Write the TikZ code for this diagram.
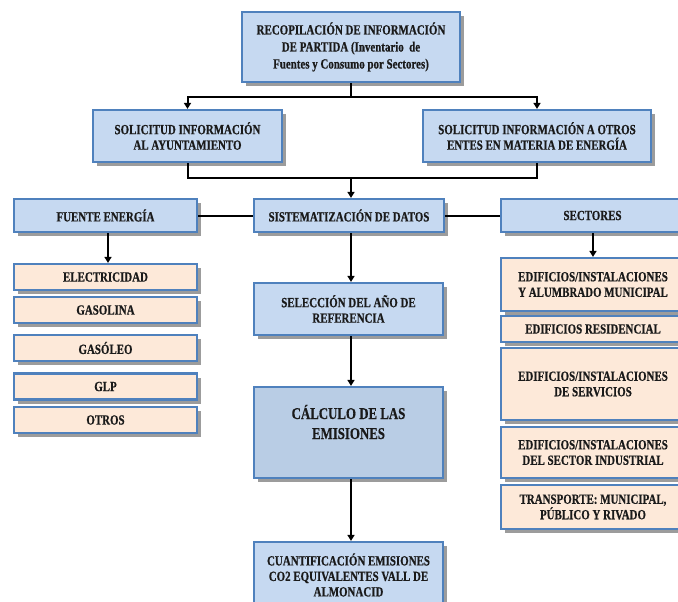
\documentclass[tikz,border=0pt]{standalone}
\usepackage{fontspec}
\newfontfamily\bx[FakeStretch=0.78,FakeBold=0.6]{Liberation Serif}
\usetikzlibrary{shadows,arrows.meta}
\definecolor{bfill}{HTML}{C6D9F1}
\definecolor{cfill}{HTML}{B9CDE5}
\definecolor{pfill}{HTML}{FDE9D9}
\definecolor{bline}{HTML}{4F81BD}
\definecolor{txt}{HTML}{1A1A1A}
\begin{document}
\begin{tikzpicture}[x=1pt,y=-1pt,
  box/.style={draw=bline, line width=2.2pt, fill=bfill, align=center, inner sep=0pt,
    text=txt, font=\bx\bfseries\fontsize{14}{15.5}\selectfont,
    general shadow={fill=black!55, opacity=0.7, shadow xshift=4pt, shadow yshift=-4pt}},
  pbox/.style={box, fill=pfill},
  conn/.style={line width=2pt, black},
  arr/.style={conn, -{Triangle[length=6pt,width=7pt]}}]
\clip (0,0) rectangle (678,602);
\fill[white] (0,0) rectangle (678,602);

% top
\node[box, minimum width=218, minimum height=70, font=\bx\bfseries\fontsize{14}{17}\selectfont] (top) at (351,47)
 {RECOPILACIÓN DE INFORMACIÓN\\DE PARTIDA (Inventario~ de\\Fuentes y Consumo por Sectores)};
\node[box, minimum width=189, minimum height=52] (sol1) at (187.5,136)
 {SOLICITUD INFORMACIÓN\\AL AYUNTAMIENTO};
\node[box, minimum width=228, minimum height=52] (sol2) at (537,136)
 {SOLICITUD INFORMACIÓN A OTROS\\ENTES EN MATERIA DE ENERGÍA};

% row 3
\node[box, minimum width=183, minimum height=33] (fuente) at (105.5,215.5) {FUENTE ENERGÍA};
\node[box, minimum width=190, minimum height=33] (sist) at (349,215.5) {SISTEMATIZACIÓN DE DATOS};
\node[box, minimum width=183, minimum height=33] (sect) at (592.5,215.5) {SECTORES};

% left list
\node[pbox, minimum width=183, minimum height=26] (elec) at (105.5,277) {ELECTRICIDAD};
\node[pbox, minimum width=183, minimum height=26] (gasol) at (105.5,310) {GASOLINA};
\node[pbox, minimum width=183, minimum height=26] (gasoleo) at (105.5,348) {GASÓLEO};
\node[pbox, minimum width=183, minimum height=26] (glp) at (105.5,386.5) {GLP};
\node[pbox, minimum width=183, minimum height=26] (otros) at (105.5,420) {OTROS};

% middle
\node[box, minimum width=189, minimum height=52] (sel) at (348.5,309)
 {SELECCIÓN DEL AÑO DE\\REFERENCIA};
\node[box, fill=cfill, minimum width=189, minimum height=91] (calc) at (348.5,432.5) {};
\node[align=center, text=txt, font=\bx\bfseries\fontsize{16.5}{20}\selectfont] (calct) at (348.5,422)
 {CÁLCULO DE LAS\\EMISIONES};
\node[box, minimum width=189, minimum height=66] (cuant) at (348.5,575)
 {CUANTIFICACIÓN EMISIONES\\CO2 EQUIVALENTES VALL DE\\ALMONACID};

% right list
\node[pbox, minimum width=184, minimum height=53] (r1) at (593,284.5)
 {EDIFICIOS/INSTALACIONES\\Y ALUMBRADO MUNICIPAL};
\node[pbox, minimum width=184, minimum height=26] (r2) at (593,329) {EDIFICIOS RESIDENCIAL};
\node[pbox, minimum width=184, minimum height=72] (r3) at (593,384)
 {EDIFICIOS/INSTALACIONES\\DE SERVICIOS};
\node[pbox, minimum width=184, minimum height=51] (r4) at (593,452.5)
 {EDIFICIOS/INSTALACIONES\\DEL SECTOR INDUSTRIAL};
\node[pbox, minimum width=184, minimum height=44] (r5) at (593,507)
 {TRANSPORTE: MUNICIPAL,\\PÚBLICO Y RIVADO};

% connectors
\coordinate (j1) at (351,97);
\draw[conn] (top.south) -- (j1);
\draw[arr] (j1) -| (sol1.north);
\draw[arr] (j1) -| (sol2.north);
\coordinate (j2) at (351,178);
\draw[conn] (sol1.south) |- (j2);
\draw[conn] (sol2.south) |- (j2);
\draw[arr] (j2) -- (sist.north -| j2);
\draw[conn] (fuente.east) -- (sist.west);
\draw[conn] (sist.east) -- (sect.west);
\draw[arr] (fuente.south -| 108,0) -- (elec.north -| 108,0);
\draw[arr] (sist.south -| 351,0) -- (sel.north -| 351,0);
\draw[arr] (sect.south -| 593,0) -- (r1.north -| 593,0);
\draw[arr] (sel.south -| 351,0) -- (calc.north -| 351,0);
\draw[arr] (calc.south -| 351,0) -- (cuant.north -| 351,0);
\end{tikzpicture}
\end{document}
